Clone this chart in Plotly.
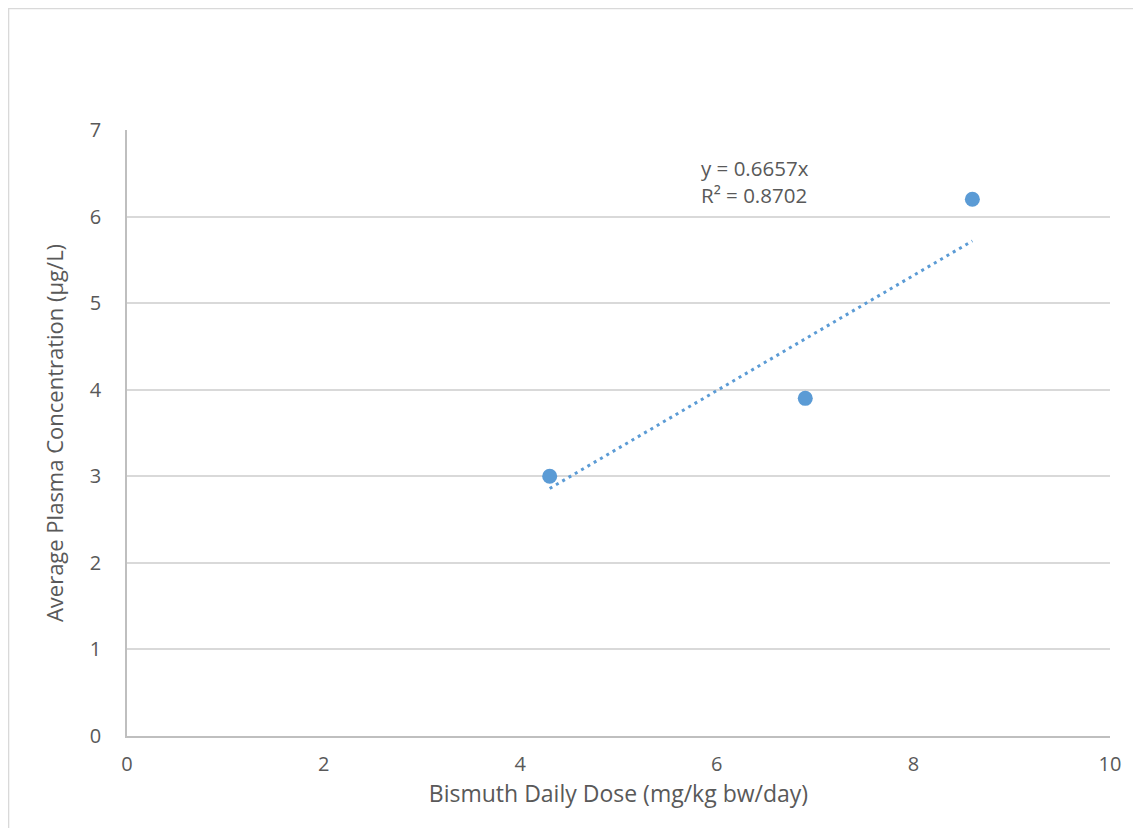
import numpy as np
import plotly.graph_objects as go

dose = [4.3, 6.9, 8.6]
plasma = [3.0, 3.9, 6.2]
x_ticks = [0, 2, 4, 6, 8, 10]
y_ticks = [0, 1, 2, 3, 4, 5, 6, 7]

xa = np.array(dose)
ya = np.array(plasma)
slope = float((xa * ya).sum() / (xa * xa).sum())
trend_x = [min(dose), max(dose)]
trend_y = [slope * v for v in trend_x]

blue = "#5B9BD5"
txt = "#595959"
grid = "#D9D9D9"
font_family = "'Open Sans', sans-serif"

fig = go.Figure()
fig.add_trace(go.Scatter(x=trend_x, y=trend_y, mode="lines",
                         line=dict(color=blue, width=3, dash="3px,4.3px"),
                         hoverinfo="skip", showlegend=False))
fig.add_trace(go.Scatter(x=dose, y=plasma, mode="markers",
                         marker=dict(color=blue, size=15, line=dict(width=0)),
                         showlegend=False))

fig.add_annotation(x=0.582, y=0.866, xref="paper", yref="paper",
                   text="y = 0.6657x<br>R² = 0.8702", showarrow=False,
                   xanchor="left", yanchor="bottom", align="left",
                   font=dict(size=20.5, color=txt, family=font_family))

fig.add_shape(type="rect", xref="paper", yref="paper",
              x0=-0.1205, x1=1.2, y0=-0.3, y1=1.2005,
              line=dict(color="#D9D9D9", width=1.5), fillcolor="rgba(0,0,0,0)",
              layer="below")

fig.update_layout(
    width=1141, height=828,
    margin=dict(l=119, r=39, t=122, b=100),
    paper_bgcolor="white", plot_bgcolor="white",
    font=dict(family=font_family, color=txt, size=20),
    xaxis=dict(range=[0, 10], tickvals=x_ticks, showgrid=False,
               showline=True, linecolor="#BFBFBF", linewidth=1.5,
               zeroline=False, ticks="", ticklabelstandoff=9,
               tickfont=dict(size=20, color=txt),
               title=dict(text="Bismuth Daily Dose (mg/kg bw/day)",
                          font=dict(size=23, color=txt), standoff=10)),
    yaxis=dict(range=[0, 7], tickvals=y_ticks, showgrid=True,
               gridcolor=grid, gridwidth=1.5,
               showline=True, linecolor="#BFBFBF", linewidth=1.5,
               zeroline=False, ticks="", ticklabelstandoff=20,
               tickfont=dict(size=20, color=txt),
               title=dict(text="Average Plasma Concentration (µg/L)",
                          font=dict(size=22, color=txt), standoff=20)),
)

fig.write_html("out.html")
